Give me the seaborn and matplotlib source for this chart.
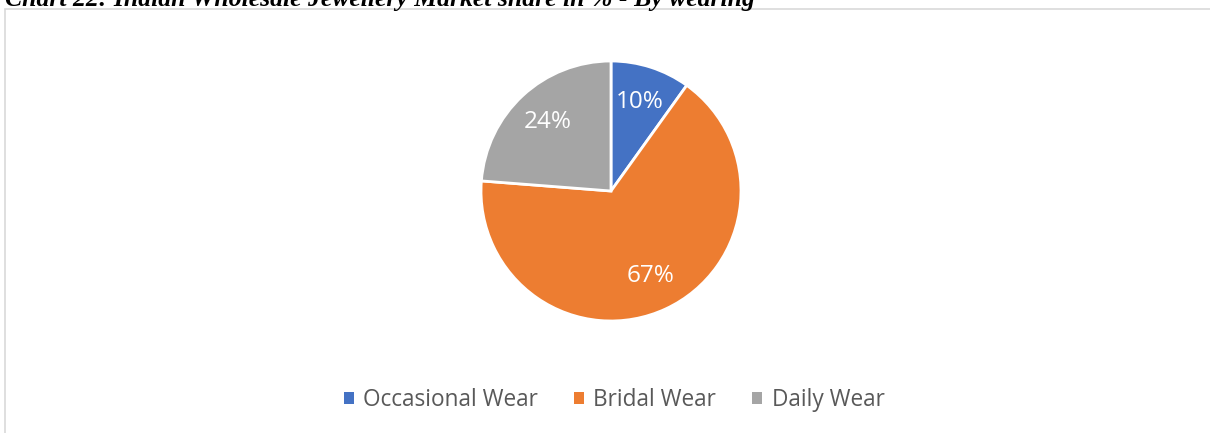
import matplotlib
matplotlib.use("Agg")
import matplotlib.pyplot as plt
import seaborn as sns
from matplotlib.patches import Patch, Rectangle

# Data
categories = ['Occasional Wear', 'Bridal Wear', 'Daily Wear']
shares = [10, 67, 24]
colors = ['#4472C4', '#ED7D31', '#A5A5A5']
title = 'Chart 22: Indian Wholesale Jewellery Market share in % - By wearing'

sns.set_theme(style='white')
plt.rcParams['font.family'] = ['Open Sans', 'DejaVu Sans']
palette = sns.color_palette(colors)

fig = plt.figure(figsize=(12.1, 4.33), dpi=100)

# chart frame (light grey border)
fig.patches.append(Rectangle((5 / 1210, -0.05), 1.2, 1 - 9 / 433 + 0.05,
                             transform=fig.transFigure, fill=False,
                             edgecolor='#D9D9D9', linewidth=1.2, zorder=0))

# title, cut off at the top as in the source
fig.text(5 / 1210, 1 - 6 / 433, title, family='Liberation Serif',
         fontsize=18.5, fontweight='bold', fontstyle='italic', va='baseline',
         color='black')

# pie: center (611, 191) px, radius 130 px
r_px = 130
half = 135
total = sum(shares)
ax = fig.add_axes([(611 - half) / 1210, (433 - 191 - half) / 433,
                   2 * half / 1210, 2 * half / 433])
wedges, texts, autotexts = ax.pie(
    shares, colors=palette, startangle=90, counterclock=False,
    autopct=lambda p: f'{p * total / 100:.0f}%', pctdistance=0.72,
    wedgeprops=dict(edgecolor='white', linewidth=2),
    textprops=dict(color='white', fontsize=17.5))
lim = half / r_px
ax.set_xlim(-lim, lim)
ax.set_ylim(-lim, lim)
ax.set_aspect('equal')
ax.axis('off')

handles = [Patch(facecolor=c, edgecolor='none') for c in palette]
fig.legend(handles, categories, loc='center', bbox_to_anchor=(614 / 1210, 33 / 433),
           ncol=3, frameon=False, fontsize=16.3, handlelength=0.45, handleheight=0.45,
           handletextpad=0.4, columnspacing=1.6, labelcolor='#595959')

fig.savefig('out.png', dpi=100)
